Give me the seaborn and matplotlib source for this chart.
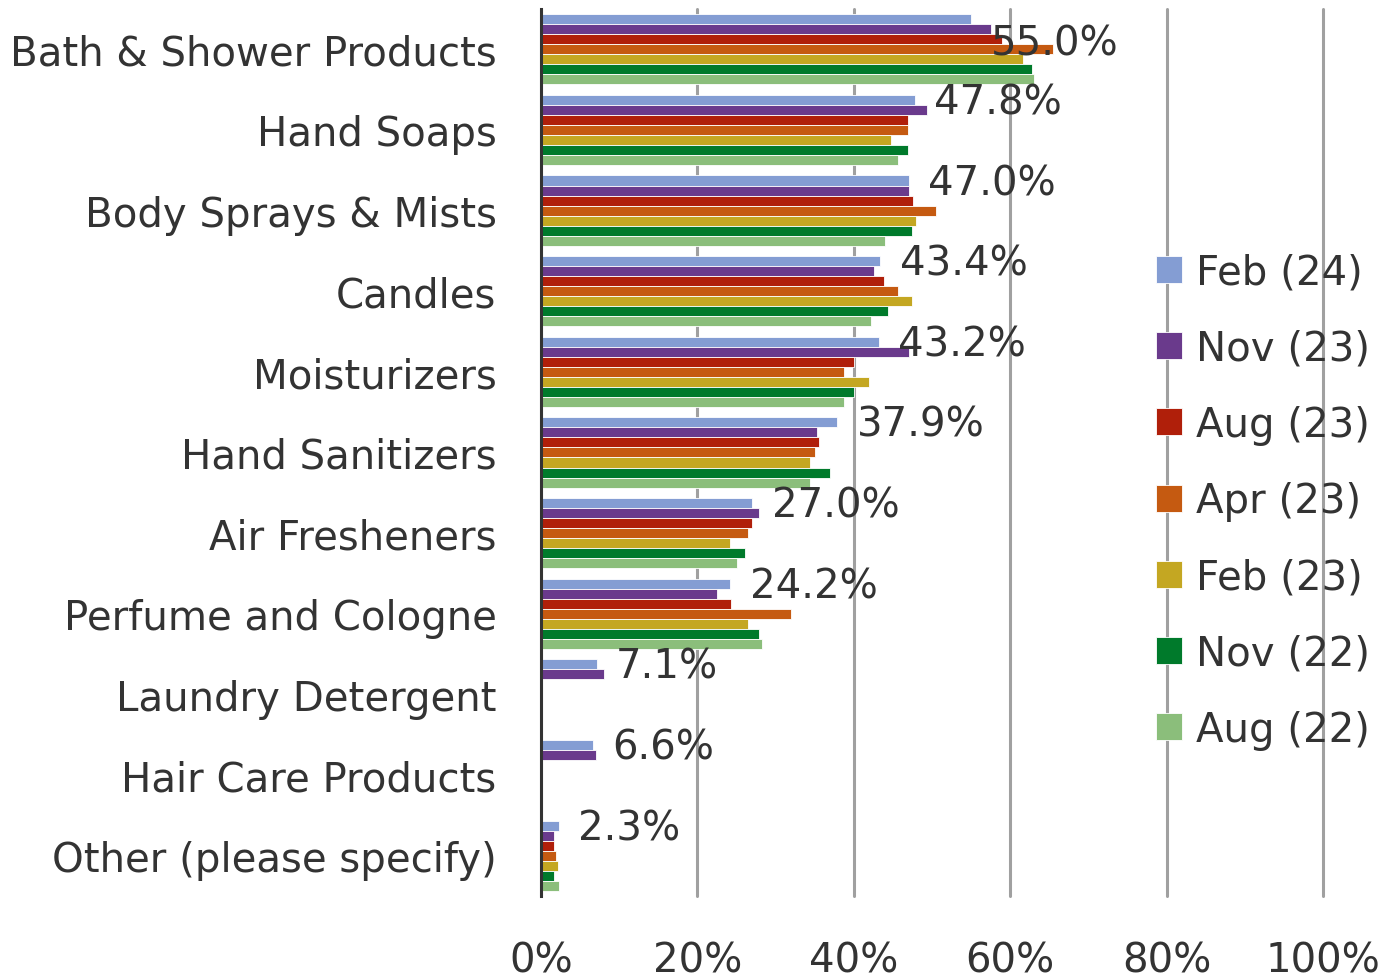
import pandas as pd
import numpy as np
import matplotlib
matplotlib.use("Agg")
import matplotlib.pyplot as plt
import seaborn as sns

categories = ['Bath & Shower Products', 'Hand Soaps', 'Body Sprays & Mists', 'Candles',
              'Moisturizers', 'Hand Sanitizers', 'Air Fresheners', 'Perfume and Cologne',
              'Laundry Detergent', 'Hair Care Products', 'Other (please specify)']
waves = ['Feb (24)', 'Nov (23)', 'Aug (23)', 'Apr (23)', 'Feb (23)', 'Nov (22)', 'Aug (22)']

feb24 = [55.0, 47.8, 47.0, 43.4, 43.2, 37.9, 27.0, 24.2, 7.1, 6.6, 2.3]
nov23 = [57.6, 49.3, 47.0, 42.6, 47.1, 35.3, 27.9, 22.5, 8.0, 7.0, 1.7]
aug23 = [58.9, 46.9, 47.6, 43.8, 40.0, 35.5, 27.0, 24.3, np.nan, np.nan, 1.7]
apr23 = [65.5, 46.9, 50.5, 45.6, 38.8, 35.0, 26.5, 31.9, np.nan, np.nan, 1.9]
feb23 = [61.6, 44.8, 48.0, 47.4, 42.0, 34.4, 24.1, 26.5, np.nan, np.nan, 2.2]
nov22 = [62.8, 46.9, 47.4, 44.4, 40.0, 37.0, 26.1, 27.9, np.nan, np.nan, 1.7]
aug22 = [63.0, 45.6, 44.0, 42.2, 38.8, 34.4, 25.0, 28.3, np.nan, np.nan, 2.3]

colors = ['#849DD3', '#6A3A8C', '#B01F0A', '#C55A11', '#C4A722', '#007A2B', '#8BBE7B']
text_color = '#333333'

series = [feb24, nov23, aug23, apr23, feb23, nov22, aug22]
df = pd.DataFrame({
    'category': np.repeat([categories], len(waves), axis=0).ravel(),
    'wave': np.repeat(waves, len(categories)),
    'value': np.concatenate(series),
}).dropna()

sns.set_theme(style='white')
plt.rcParams['font.family'] = ['DejaVu Sans']

fig = plt.figure(figsize=(13.88, 9.79), dpi=100)
ax = fig.add_axes([0.3898, 0.0838, 0.5634, 0.906])

sns.barplot(data=df, y='category', x='value', hue='wave', order=categories,
            hue_order=waves, palette=colors, width=0.87, orient='h',
            edgecolor='white', linewidth=0.6, saturation=1, ax=ax)

ax.set_xlim(0, 100)
ax.set_ylim(len(categories) - 0.5, -0.5)
ax.set_xticks(range(0, 101, 20))
ax.set_xticklabels([f'{t}%' for t in range(0, 101, 20)])
ax.xaxis.grid(True, color='#A0A0A0', linewidth=2.2)
for gl in ax.get_xgridlines():
    gl.set_clip_on(False)
ax.set_axisbelow(True)
ax.set_xlabel('')
ax.set_ylabel('')
for s in ['top', 'right', 'bottom']:
    ax.spines[s].set_visible(False)
ax.spines['left'].set_color('#333333')
ax.spines['left'].set_linewidth(2.2)
ax.tick_params(axis='y', length=0, pad=32, labelsize=29, labelcolor=text_color)
ax.tick_params(axis='x', length=0, pad=32, labelsize=29, labelcolor=text_color)

# data labels for the latest wave
bar_h = 0.87 / len(waves)
for i, v in enumerate(feb24):
    y = i - 0.87 / 2 + bar_h / 2
    dy = 2.4 * bar_h if i == 0 else 0.25 * bar_h
    ax.annotate(f'{v:.1f}%', xy=(v, y + dy), xytext=(14, 0), textcoords='offset points',
                va='center', ha='left', fontsize=29, color=text_color)

ax.legend(loc='center left', bbox_to_anchor=(0.74, 0.445), frameon=False,
          fontsize=29, labelcolor=text_color, handlelength=0.65, handleheight=0.65,
          handletextpad=0.35, labelspacing=0.9)

fig.savefig('out.png', dpi=100)
